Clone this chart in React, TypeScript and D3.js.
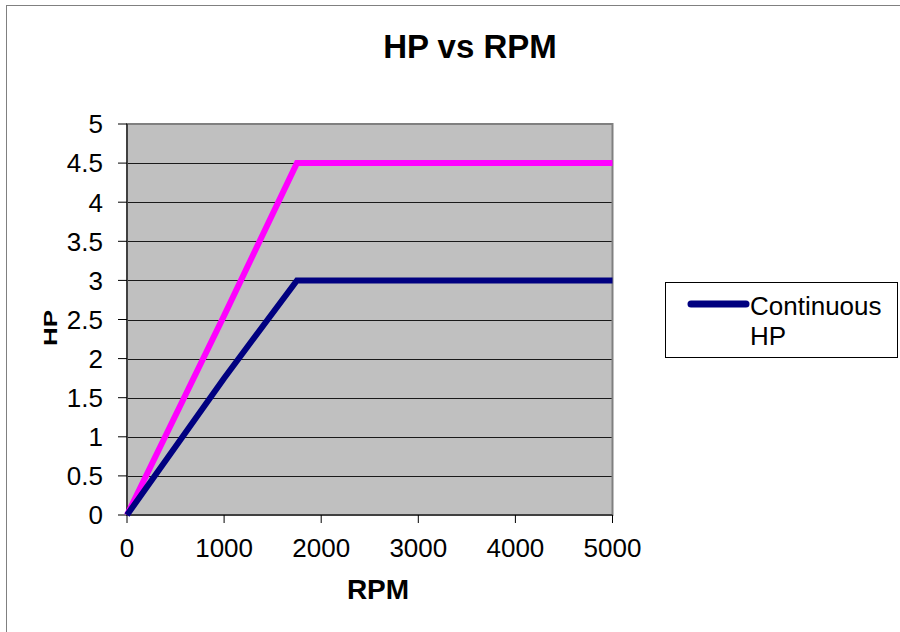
import React from "react";
import * as d3 from "d3";

const rpm = [0, 1000, 1750, 5000];
const peakHP = [0, 2.55, 4.5, 4.5];
const continuousHP = [0, 1.75, 3, 3];
const xTicks = [0, 1000, 2000, 3000, 4000, 5000];
const yTicks = [0, 0.5, 1, 1.5, 2, 2.5, 3, 3.5, 4, 4.5, 5];
const title = "HP vs RPM";
const xTitle = "RPM";
const yTitle = "HP";
const legendLabel = ["Continuous", "HP"];

const W = 900;
const H = 632;
const plot = { left: 127, right: 612.5, top: 124, bottom: 515 };
const FONT = "'Liberation Sans', Arial, sans-serif";

export default function App() {
  const x = d3.scaleLinear().domain([0, 5000]).range([plot.left, plot.right]);
  const y = d3.scaleLinear().domain([0, 5]).range([plot.bottom, plot.top]);
  const line = d3
    .line<number>()
    .x((_, i) => x(rpm[i]))
    .y((d) => y(d));

  return (
    <svg
      width={W}
      height={H}
      style={{ position: "absolute", left: 0, top: 0, background: "#fff" }}
      fontFamily={FONT}
    >
      <rect x={6.5} y={5.5} width={920} height={660} fill="#fff" stroke="#808080" strokeWidth={1} />
      <text x={470} y={58} textAnchor="middle" fontSize={33} fontWeight="bold" fill="#000">
        {title}
      </text>
      <rect
        x={plot.left}
        y={plot.top}
        width={plot.right - plot.left}
        height={plot.bottom - plot.top}
        fill="#C0C0C0"
      />
      {yTicks.slice(1, -1).map((t) => (
        <line
          key={"g" + t}
          x1={plot.left}
          x2={plot.right}
          y1={Math.round(y(t)) + 0.5}
          y2={Math.round(y(t)) + 0.5}
          stroke="#1a1a1a"
          strokeWidth={1}
        />
      ))}
      <rect
        x={plot.left}
        y={plot.top}
        width={plot.right - plot.left}
        height={plot.bottom - plot.top}
        fill="none"
        stroke="#808080"
        strokeWidth={2}
      />
      <line x1={plot.left} x2={plot.left} y1={plot.top} y2={plot.bottom} stroke="#000" strokeWidth={1} />
      <line x1={plot.left} x2={plot.right} y1={plot.bottom} y2={plot.bottom} stroke="#000" strokeWidth={1} />
      {yTicks.map((t) => (
        <g key={"y" + t}>
          <line x1={plot.left - 9} x2={plot.left} y1={y(t)} y2={y(t)} stroke="#000" strokeWidth={1} />
          <text x={103} y={y(t)} dy="0.36em" textAnchor="end" fontSize={26} fill="#000">
            {String(t)}
          </text>
        </g>
      ))}
      {xTicks.map((t) => (
        <g key={"x" + t}>
          <line x1={x(t)} x2={x(t)} y1={plot.bottom} y2={plot.bottom + 8} stroke="#000" strokeWidth={1} />
          <text x={x(t)} y={557} textAnchor="middle" fontSize={26} fill="#000">
            {String(t)}
          </text>
        </g>
      ))}
      <path d={line(peakHP) || ""} fill="none" stroke="#FF00FF" strokeWidth={6} strokeLinejoin="miter" />
      <path d={line(continuousHP) || ""} fill="none" stroke="#000080" strokeWidth={6} strokeLinejoin="miter" />
      <text x={378} y={599} textAnchor="middle" fontSize={28} fontWeight="bold" fill="#000">
        {xTitle}
      </text>
      <text
        transform="translate(57,328) rotate(-90) scale(1,0.7)"
        textAnchor="middle"
        fontSize={26}
        fontWeight="bold"
        fill="#000"
      >
        {yTitle}
      </text>
      <rect x={665.5} y={282.5} width={232} height={75} fill="#fff" stroke="#000" strokeWidth={1} />
      <line x1={691} x2={746} y1={304} y2={304} stroke="#000080" strokeWidth={7} strokeLinecap="round" />
      <text x={750} y={315} fontSize={26} fill="#000">
        {legendLabel[0]}
      </text>
      <text x={750} y={345} fontSize={26} fill="#000">
        {legendLabel[1]}
      </text>
    </svg>
  );
}
